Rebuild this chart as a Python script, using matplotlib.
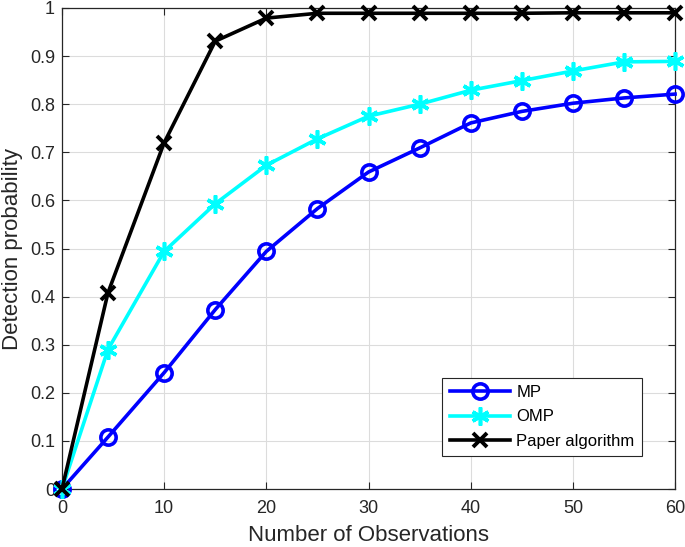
import numpy as np
import matplotlib
matplotlib.use('Agg')
from matplotlib import pyplot as plt

# number of observations
obs = [0, 4.5, 10, 15, 20, 25, 30, 35, 40, 45, 50, 55, 60]

# detection probability for each method
mp = [0, 0.108, 0.242, 0.373, 0.494, 0.583, 0.659, 0.709, 0.761, 0.785, 0.802, 0.813, 0.821]
omp = [0, 0.290, 0.494, 0.593, 0.673, 0.728, 0.775, 0.800, 0.829, 0.849, 0.869, 0.888, 0.889]
paper = [0, 0.408, 0.720, 0.931, 0.979, 0.989, 0.989, 0.989, 0.989, 0.989, 0.990, 0.990, 0.990]

xticks = [0, 10, 20, 30, 40, 50, 60]
yticks = [0, 0.1, 0.2, 0.3, 0.4, 0.5, 0.6, 0.7, 0.8, 0.9, 1]
ytick_labels = ['0', '0.1', '0.2', '0.3', '0.4', '0.5', '0.6', '0.7', '0.8', '0.9', '1']

plt.rcParams['font.family'] = ['Liberation Sans', 'DejaVu Sans']

dark = '#262626'

fig = plt.figure(figsize=(6.85, 5.47), dpi=100, facecolor='w')
ax = fig.add_axes([0.0905, 0.106, 0.895, 0.8794])

ax.plot(obs, mp, color='#0000ff', lw=2.6, marker='o', ms=11, mfc='none',
		mew=2.6, label='MP', clip_on=False, zorder=3)
ax.plot(obs, omp, color='#00ffff', lw=2.6, marker=(6, 2, 0), ms=13,
		mew=2.6, label='OMP', clip_on=False, zorder=4)
ax.plot(obs, paper, color='k', lw=2.6, marker='x', ms=10, mew=2.8,
		label='Paper algorithm', clip_on=False, zorder=5)

ax.set_xlim(0, 60)
ax.set_ylim(0, 1)
ax.set_xticks(xticks)
ax.set_yticks(yticks)
ax.set_yticklabels(ytick_labels)

ax.grid(True, color='#dcdcdc', lw=0.8)
ax.set_axisbelow(True)
ax.tick_params(direction='in', length=5, width=0.8, colors=dark,
			   labelsize=13, top=True, right=True)
ax.tick_params(axis='x', pad=8)
ax.tick_params(axis='y', pad=5)
for sp in ax.spines.values():
	sp.set_color(dark)
	sp.set_linewidth(0.9)

ax.set_xlabel('Number of Observations', fontsize=16, color=dark, labelpad=6)
ax.set_ylabel('Detection probability', fontsize=16, color=dark, labelpad=5)

leg = ax.legend(loc='lower right', bbox_to_anchor=(0.946, 0.068),
				borderaxespad=0, fontsize=12, handlelength=3.6,
				fancybox=False, framealpha=1, edgecolor=dark, borderpad=0.45,
				labelspacing=0.56, handletextpad=0.4)
leg.get_frame().set_linewidth(0.8)

fig.savefig('out.png', dpi=100)
